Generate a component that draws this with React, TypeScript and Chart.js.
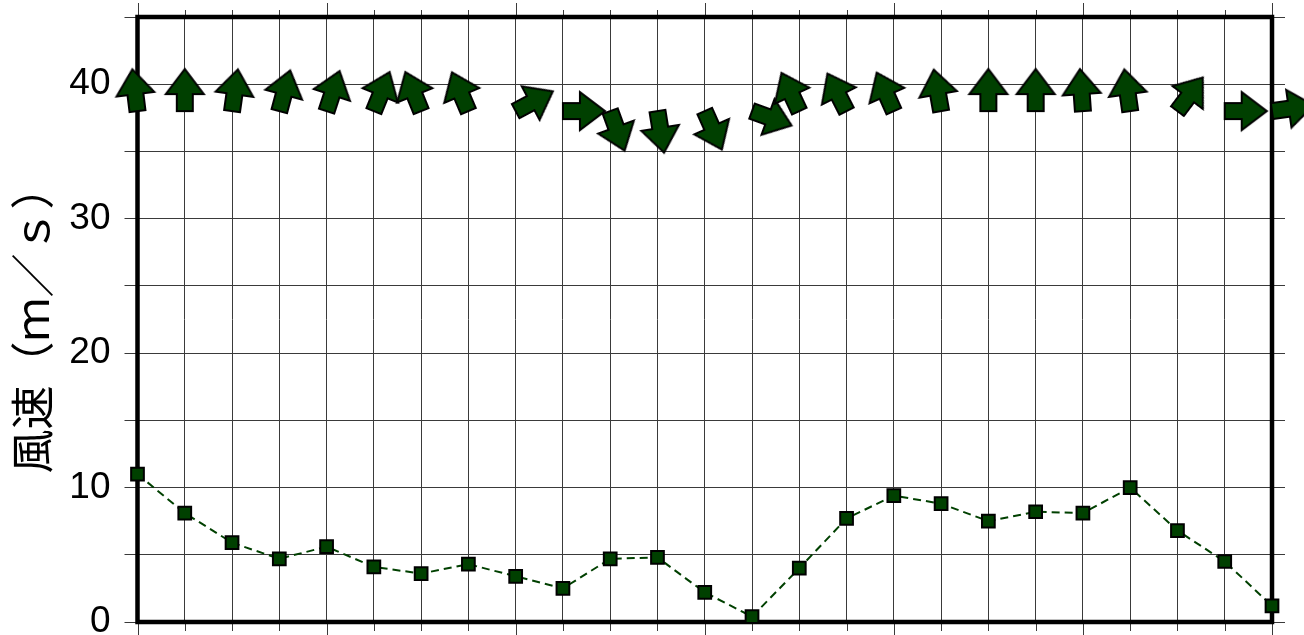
import React, { useEffect, useRef } from "react";
import { Chart, registerables } from "chart.js";

Chart.register(...registerables);

const hours = ["0", "1", "2", "3", "4", "5", "6", "7", "8", "9", "10", "11", "12", "13", "14", "15", "16", "17", "18", "19", "20", "21", "22", "23", "24"];
const windSpeed = [11.0, 8.1, 5.9, 4.7, 5.6, 4.1, 3.6, 4.3, 3.4, 2.5, 4.7, 4.8, 2.2, 0.4, 4.0, 7.7, 9.4, 8.8, 7.5, 8.2, 8.1, 10.0, 6.8, 4.5, 1.2];
// direction each arrow points, degrees clockwise from up
const windDirection = [-7, 0, 8, 15, 18, 22, 338, 337, 62, 90, 160, 171, 156, 110, 335, 333, 336, 350, 0, 0, 356, 352, 37, 90, 82];
const arrowLevel = 38;
const yTickLabels = ["0", "10", "20", "30", "40"];
const yTitle = "風速（ｍ／ｓ）";

const GREEN = "#004000";
const GRID = "#3a3a3a";

function makeArrow(): HTMLCanvasElement {
  const L = 42;
  const S = 2 * (L + 4);
  const c = S / 2;
  const cv = document.createElement("canvas");
  cv.width = S;
  cv.height = S;
  const g = cv.getContext("2d")!;
  g.beginPath();
  g.moveTo(c - 8, c);
  g.lineTo(c - 8, c - 17);
  g.lineTo(c - 19, c - 17);
  g.lineTo(c, c - L);
  g.lineTo(c + 19, c - 17);
  g.lineTo(c + 8, c - 17);
  g.lineTo(c + 8, c);
  g.closePath();
  g.fillStyle = GREEN;
  g.fill();
  g.lineWidth = 2;
  g.lineJoin = "miter";
  g.strokeStyle = "#000";
  g.stroke();
  return cv;
}

const framePlugin = {
  id: "frameTicks",
  beforeDatasetsDraw(chart: any) {
    const { ctx, chartArea: a, scales } = chart;
    const x = scales.x;
    ctx.save();
    ctx.strokeStyle = GRID;
    ctx.lineWidth = 1;
    hours.forEach((_h, i) => {
      const px = Math.round(x.getPixelForValue(i)) + 0.5;
      const major = i % 4 === 0;
      ctx.beginPath();
      ctx.moveTo(px, a.top - (major ? 14 : 7));
      ctx.lineTo(px, a.top);
      ctx.moveTo(px, a.bottom);
      ctx.lineTo(px, a.bottom + (major ? 14 : 9));
      ctx.stroke();
    });
    ctx.strokeStyle = "#000";
    ctx.lineWidth = 4.5;
    ctx.strokeRect(a.left, a.top, a.right - a.left, a.bottom - a.top);
    ctx.restore();
  },
};

export default function App() {
  const ref = useRef<HTMLCanvasElement>(null);
  useEffect(() => {
    const arrow = makeArrow();
    const chart = new Chart(ref.current!, {
      type: "line",
      data: {
        labels: hours,
        datasets: [
          {
            label: "arrows",
            data: hours.map(() => arrowLevel),
            showLine: false,
            pointStyle: arrow as any,
            pointRadius: 5,
            pointRotation: ((ctx: any) => windDirection[ctx.dataIndex]) as any,
            clip: false as any,
          },
          {
            label: "speed",
            data: windSpeed,
            borderColor: GREEN,
            borderWidth: 2,
            borderDash: [8, 5],
            pointStyle: "rect",
            pointRadius: 9,
            pointBackgroundColor: GREEN,
            pointBorderColor: "#000",
            pointBorderWidth: 2,
            tension: 0,
            clip: false as any,
          },
        ],
      },
      options: {
        responsive: false,
        animation: false,
        events: [],
        layout: { padding: { top: 17, left: 0, right: 0, bottom: 0 } },
        plugins: { legend: { display: false }, tooltip: { enabled: false } },
        scales: {
          x: {
            type: "category",
            offset: false,
            ticks: { display: false },
            border: { display: false },
            grid: { color: GRID, lineWidth: 1, drawTicks: false, offset: false },
            afterFit: (s: any) => {
              s.height = 13;
            },
          },
          y: {
            position: "left",
            min: 0,
            max: 45,
            ticks: {
              stepSize: 5,
              autoSkip: false,
              padding: 14,
              color: "#000",
              font: { family: "'Liberation Sans', Arial, sans-serif", size: 37 },
              callback: (v: any) => (yTickLabels.includes(String(v)) ? String(v) : ""),
            },
            border: { display: false },
            grid: { color: GRID, lineWidth: 1, tickLength: 13, tickColor: GRID },
            title: {
              display: true,
              text: yTitle,
              color: "#000",
              font: { family: "'Noto Sans CJK JP', sans-serif", size: 44 },
              padding: { top: 6, bottom: 0 },
            },
            afterFit: (s: any) => {
              s.width = 137.5;
              s.paddingTop = 0;
              s.paddingBottom = 0;
            },
          },
          y2: {
            position: "right",
            min: 0,
            max: 45,
            ticks: { stepSize: 5, autoSkip: false, display: false },
            border: { display: false },
            grid: { drawOnChartArea: false, color: GRID, tickLength: 13, tickColor: GRID },
            afterFit: (s: any) => {
              s.width = 32;
              s.paddingTop = 0;
              s.paddingBottom = 0;
            },
          },
        },
      },
      plugins: [framePlugin],
    });
    return () => chart.destroy();
  }, []);
  return (
    <div style={{ position: "absolute", left: 0, top: 0, width: 1304, height: 635, background: "#fff" }}>
      <canvas ref={ref} width={1304} height={635} />
    </div>
  );
}
